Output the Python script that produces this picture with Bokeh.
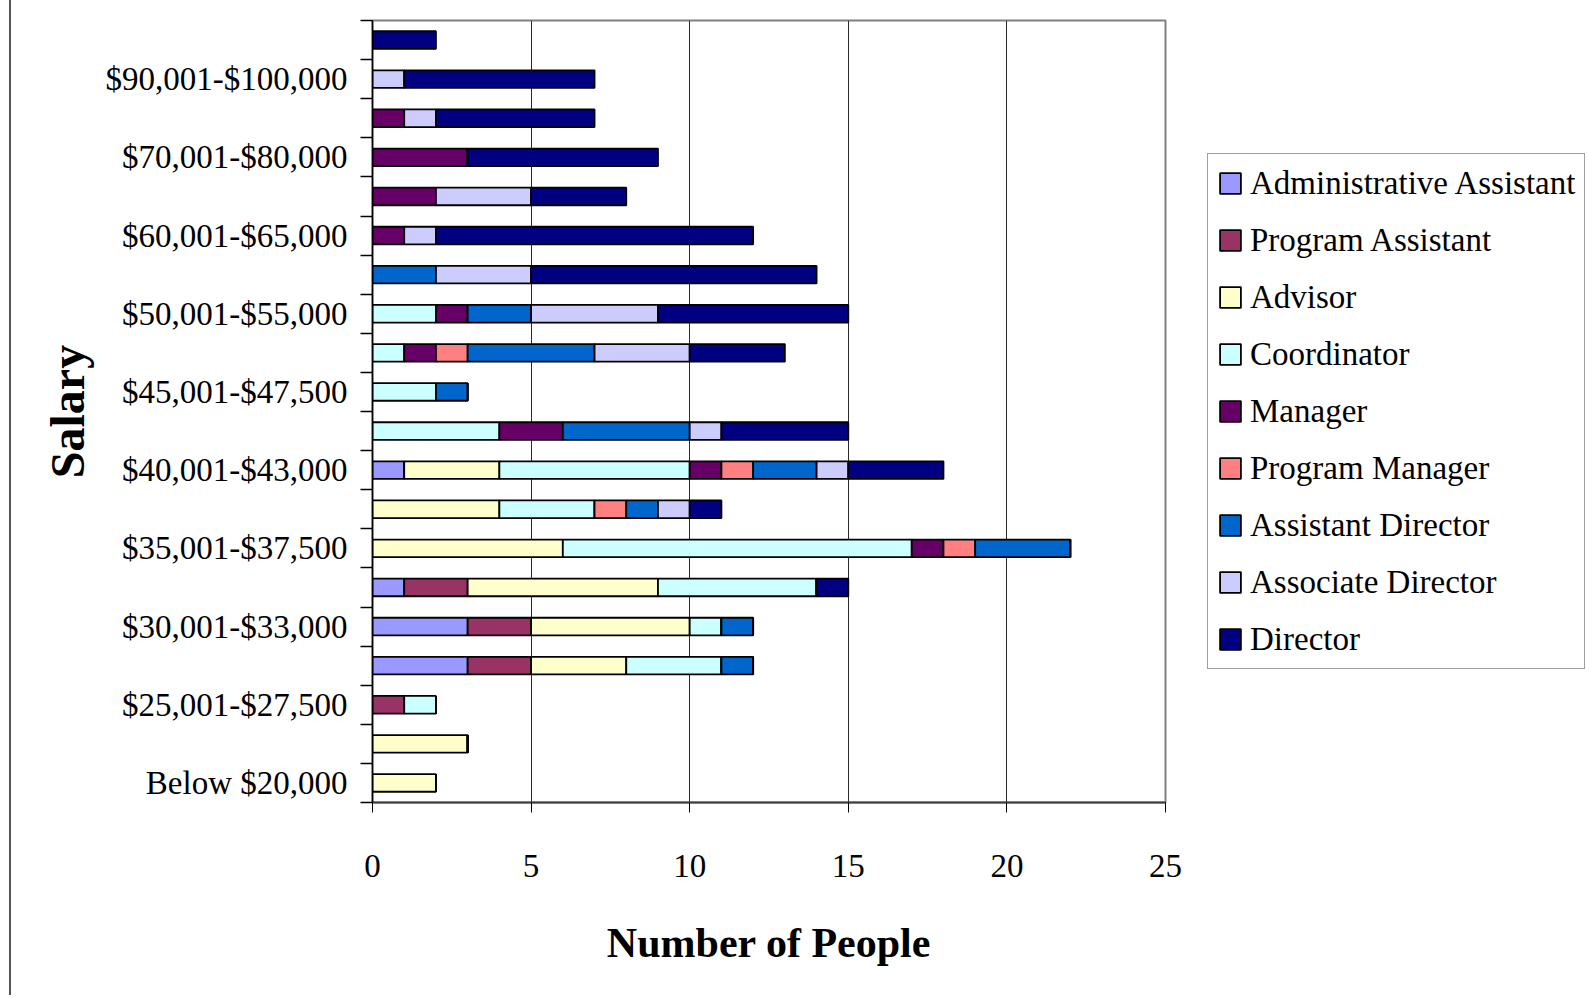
from bokeh.plotting import figure
from bokeh.models import ColumnDataSource, FixedTicker, Legend, LegendItem
from bokeh.embed import file_html
from bokeh.resources import INLINE

# Salary bands, bottom to top
salary = ["Below $20,000", "$20,001-$25,000", "$25,001-$27,500", "$27,501-$30,000",
          "$30,001-$33,000", "$33,001-$35,000", "$35,001-$37,500", "$37,501-$40,000",
          "$40,001-$43,000", "$43,001-$45,000", "$45,001-$47,500", "$47,501-$50,000",
          "$50,001-$55,000", "$55,001-$60,000", "$60,001-$65,000", "$65,001-$70,000",
          "$70,001-$80,000", "$80,001-$90,000", "$90,001-$100,000", "Above $100,000"]

positions = ["Administrative Assistant", "Program Assistant", "Advisor", "Coordinator",
             "Manager", "Program Manager", "Assistant Director", "Associate Director",
             "Director"]

admin_assistant = [0, 0, 0, 3, 3, 1, 0, 0, 1, 0, 0, 0, 0, 0, 0, 0, 0, 0, 0, 0]
program_assistant = [0, 0, 1, 2, 2, 2, 0, 0, 0, 0, 0, 0, 0, 0, 0, 0, 0, 0, 0, 0]
advisor = [2, 3, 0, 3, 5, 6, 6, 4, 3, 0, 0, 0, 0, 0, 0, 0, 0, 0, 0, 0]
coordinator = [0, 0, 1, 3, 1, 5, 11, 3, 6, 4, 2, 1, 2, 0, 0, 0, 0, 0, 0, 0]
manager = [0, 0, 0, 0, 0, 0, 1, 0, 1, 2, 0, 1, 1, 0, 1, 2, 3, 1, 0, 0]
program_manager = [0, 0, 0, 0, 0, 0, 1, 1, 1, 0, 0, 1, 0, 0, 0, 0, 0, 0, 0, 0]
assistant_director = [0, 0, 0, 1, 1, 0, 3, 1, 2, 4, 1, 4, 2, 2, 0, 0, 0, 0, 0, 0]
associate_director = [0, 0, 0, 0, 0, 0, 0, 1, 1, 1, 0, 3, 4, 3, 1, 3, 0, 1, 1, 0]
director = [0, 0, 0, 0, 0, 1, 0, 1, 3, 4, 0, 3, 6, 9, 10, 3, 6, 5, 6, 2]

colors = ["#9999FF", "#993366", "#FFFFCC", "#CCFFFF", "#660066",
          "#FF8080", "#0066CC", "#CCCCFF", "#000080"]

x_ticks = [0, 5, 10, 15, 20, 25]

series = [admin_assistant, program_assistant, advisor, coordinator, manager,
          program_manager, assistant_director, associate_director, director]
keys = ["s%d" % i for i in range(len(series))]
data = {"y": list(range(len(salary)))}
for k, s in zip(keys, series):
    data[k] = s
source = ColumnDataSource(data)

FONT = "Liberation Serif"

p = figure(output_backend="svg", toolbar_location=None,
           frame_width=793, frame_height=782,
           min_border_left=361, min_border_top=20, min_border_right=421,
           min_border_bottom=193,
           x_range=(0, 25), y_range=(-0.5, len(salary) - 0.5),
           styles={"border-left": "2px solid #555555",
                   "border-right": "2px solid #555555",
                   "margin-left": "9px"})

renderers = p.hbar_stack(keys, y="y", height=0.45, color=colors, source=source,
                         line_color="black", line_width=1.8)

p.background_fill_color = "white"
p.border_fill_color = "white"
p.outline_line_color = "#808080"
p.outline_line_width = 2

# grid
p.ygrid.visible = False
p.xgrid.ticker = FixedTicker(ticks=x_ticks)
p.xgrid.grid_line_color = "#2a2a2a"
p.xgrid.grid_line_width = 1

# x axis
p.xaxis.ticker = FixedTicker(ticks=x_ticks)
p.xaxis.axis_line_color = "#404040"
p.xaxis.axis_line_width = 2
p.xaxis.major_tick_out = 10
p.xaxis.major_tick_in = 0
p.xaxis.major_tick_line_color = "black"
p.xaxis.minor_tick_line_color = None
p.xaxis.major_label_text_font = FONT
p.xaxis.major_label_text_font_size = "33px"
p.xaxis.major_label_text_color = "black"
p.xaxis.major_label_standoff = 42
p.xaxis.axis_label = "Number of People"
p.xaxis.axis_label_text_font = FONT
p.xaxis.axis_label_text_font_style = "bold"
p.xaxis.axis_label_text_font_size = "42px"
p.xaxis.axis_label_text_color = "black"
p.xaxis.axis_label_standoff = 40

# y axis: labels on every other band, ticks at band boundaries
label_pos = list(range(0, len(salary), 2))
bounds = [i - 0.5 for i in range(len(salary) + 1)]
p.yaxis.ticker = FixedTicker(ticks=label_pos, minor_ticks=bounds)
p.yaxis.major_label_overrides = {i: salary[i] for i in label_pos}
p.yaxis.axis_line_color = "black"
p.yaxis.axis_line_width = 1.5
p.yaxis.major_tick_out = 0
p.yaxis.major_tick_in = 0
p.yaxis.minor_tick_out = 12
p.yaxis.minor_tick_in = 0
p.yaxis.minor_tick_line_color = "black"
p.yaxis.minor_tick_line_width = 1.5
p.yaxis.major_label_text_font = FONT
p.yaxis.major_label_text_font_size = "33px"
p.yaxis.major_label_text_color = "black"
p.yaxis.major_label_standoff = 13
p.yaxis.axis_label = "Salary"
p.yaxis.axis_label_text_font = FONT
p.yaxis.axis_label_text_font_style = "bold"
p.yaxis.axis_label_text_font_size = "48px"
p.yaxis.axis_label_text_color = "black"
p.yaxis.axis_label_standoff = 9

items = [LegendItem(label=name, renderers=[r]) for name, r in zip(positions, renderers)]
legend = Legend(items=items, location=(42, 133))
legend.label_text_font = FONT
legend.label_text_font_size = "33px"
legend.label_text_color = "black"
legend.glyph_width = 26
legend.glyph_height = 26
legend.label_height = 40
legend.label_standoff = 7
legend.spacing = 17
legend.padding = 9
legend.margin = 0
legend.border_line_color = "#404040"
legend.border_line_width = 1.5
legend.background_fill_color = "white"
p.add_layout(legend, "right")

open("out.html", "w").write(file_html(p, INLINE))
